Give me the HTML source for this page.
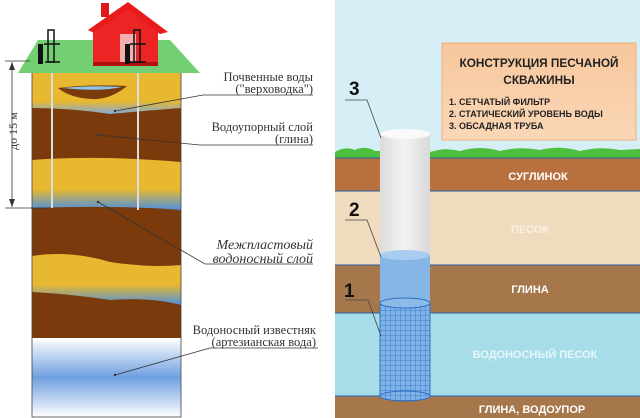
<!DOCTYPE html>
<html><head><meta charset="utf-8"><style>
html,body{margin:0;padding:0;background:#fff;width:640px;height:418px;overflow:hidden}
svg{display:block}
</style></head><body>
<svg width="640" height="418" viewBox="0 0 640 418" xmlns="http://www.w3.org/2000/svg" font-family="Liberation Serif, DejaVu Serif, serif">
<defs>
<linearGradient id="y1" x1="0" y1="0" x2="0" y2="1"><stop offset="0" stop-color="#e8b830"/><stop offset="0.7" stop-color="#e8b830"/><stop offset="1" stop-color="#7fa9d8"/></linearGradient>
<linearGradient id="y2" x1="0" y1="0" x2="0" y2="1"><stop offset="0" stop-color="#e8b830"/><stop offset="0.6" stop-color="#e8b830"/><stop offset="1" stop-color="#4d8fe0"/></linearGradient>
<linearGradient id="art" x1="0" y1="0" x2="0" y2="1"><stop offset="0" stop-color="#ffffff"/><stop offset="0.5" stop-color="#6f9fe0"/><stop offset="1" stop-color="#ffffff"/></linearGradient>
<linearGradient id="pipe" x1="0" y1="0" x2="1" y2="0"><stop offset="0" stop-color="#dcdcdc"/><stop offset="0.5" stop-color="#f3f3f3"/><stop offset="1" stop-color="#d8d8d8"/></linearGradient>
<linearGradient id="box" x1="0" y1="0" x2="0" y2="1"><stop offset="0" stop-color="#f7c79c"/><stop offset="1" stop-color="#fbd7b6"/></linearGradient>
<pattern id="mesh" width="5" height="5" patternUnits="userSpaceOnUse"><rect width="5" height="5" fill="#7fb3e8"/><path d="M0 0H5M0 0V5" stroke="#2f6fc4" stroke-width="0.8"/></pattern>
</defs>
<rect width="640" height="418" fill="#fff"/>
<rect x="32" y="72" width="149" height="345" fill="#7a3a0c"/>
<path d="M32 72H181V108Q130 112 110 114Q70 108 32 108Z" fill="url(#y1)"/>
<path d="M32 160Q100 155 181 162V210Q120 205 32 208Z" fill="url(#y2)"/>
<path d="M32 256Q70 250 110 262Q150 268 181 265V305Q150 297 110 300Q70 294 32 292Z" fill="url(#y2)"/>
<path d="M32 338H181V417H32Z" fill="url(#art)"/>
<rect x="32" y="72" width="149" height="345" fill="none" stroke="#444" stroke-width="0.8"/>
<path d="M58 88Q88 84 127 86Q110 100 92 99Q70 98 58 88Z" fill="#7a3a0c"/>
<path d="M63 88Q90 85 122 87Q100 92 63 88Z" fill="#8cc4ec"/>
<line x1="52" y1="72" x2="52" y2="208" stroke="#ddd" stroke-width="2"/>
<line x1="138" y1="72" x2="138" y2="210" stroke="#ddd" stroke-width="2"/>
<polygon points="38,40 170,40 200,73 18,73" fill="#72cf73"/>
<polygon points="88,30 128,2 168,32 160,34 128,12 96,34" fill="#e81a1a"/>
<rect x="101" y="3" width="8" height="14" fill="#e01818"/>
<polygon points="93,32 128,10 158,32 158,66 93,66" fill="#ec2424"/>
<rect x="120" y="34" width="16" height="28" fill="#f4b0b0"/>
<rect x="93" y="62" width="65" height="4" fill="#b01010"/>
<g stroke="#111" stroke-width="1.5" fill="none">
<rect x="48" y="30" width="6" height="32"/><line x1="45" y1="62" x2="60" y2="62"/><line x1="44" y1="44" x2="60" y2="44"/>
<rect x="134" y="30" width="6" height="32"/><line x1="130" y1="62" x2="146" y2="62"/><line x1="130" y1="44" x2="146" y2="44"/>
</g>
<rect x="38" y="44" width="5" height="20" fill="#111"/><rect x="125" y="44" width="5" height="20" fill="#111"/>
<g stroke="#333" stroke-width="0.8">
<line x1="5" y1="61" x2="30" y2="61"/><line x1="5" y1="208" x2="50" y2="208"/>
<line x1="12" y1="62" x2="12" y2="207"/>
</g>
<polygon points="12,62 9,70 15,70" fill="#333"/><polygon points="12,207 9,199 15,199" fill="#333"/>
<text x="0" y="0" transform="translate(17,150) rotate(-90)" font-size="12" fill="#333">до 15 м</text>
<g stroke="#333" stroke-width="0.8" fill="none">
<polyline points="115,111 203,95 313,95"/>
<polyline points="98,135 200,145 313,145"/>
<polyline points="98,202 205,264 313,264"/>
<polyline points="115,375 210,348 318,348"/>
</g>
<g fill="#333"><circle cx="115" cy="111" r="1.2"/><circle cx="98" cy="135" r="1.2"/><circle cx="98" cy="202" r="1.2"/><circle cx="115" cy="375" r="1.2"/></g>
<g font-size="12.5" fill="#333" text-anchor="end">
<text x="313" y="81">Почвенные воды</text>
<text x="313" y="93">("верховодка")</text>
<text x="313" y="131">Водоупорный слой</text>
<text x="313" y="143">(глина)</text>
<text x="313" y="249" font-style="italic" font-size="14">Межпластовый</text>
<text x="313" y="263" font-style="italic" font-size="14">водоносный слой</text>
<text x="316" y="334">Водоносный известняк</text>
<text x="316" y="346">(артезианская вода)</text>
</g>
<rect x="335" y="0" width="305" height="418" fill="#d6eef5"/>
<rect x="442" y="43" width="194" height="97" fill="url(#box)" stroke="#f0b07c"/>
<g font-family="Liberation Sans, DejaVu Sans, sans-serif" font-weight="bold" fill="#222">
<text x="539" y="67" font-size="11.8" text-anchor="middle">КОНСТРУКЦИЯ ПЕСЧАНОЙ</text>
<text x="539" y="84" font-size="11.8" text-anchor="middle">СКВАЖИНЫ</text>
<text x="449" y="105" font-size="9">1.   СЕТЧАТЫЙ ФИЛЬТР</text>
<text x="449" y="117" font-size="9">2.   СТАТИЧЕСКИЙ УРОВЕНЬ ВОДЫ</text>
<text x="449" y="129" font-size="9">3.   ОБСАДНАЯ ТРУБА</text>
</g>
<path d="M335 158V152Q345 146 355 150Q365 145 375 151L380 151V158ZM430 158V152Q445 147 460 151Q480 145 500 151Q520 146 540 150Q560 145 580 151Q600 146 620 150L640 149V158Z" fill="#4cc03c"/>
<rect x="335" y="158" width="305" height="33" fill="#b9703f"/>
<rect x="335" y="191" width="305" height="74" fill="#efdbbd"/>
<rect x="335" y="265" width="305" height="48" fill="#a7774c"/>
<rect x="335" y="313" width="305" height="83" fill="#a6dde8"/>
<rect x="335" y="396" width="305" height="22" fill="#a7774c"/>
<g stroke="#2a5fa8" stroke-width="1"><line x1="335" y1="158" x2="640" y2="158"/><line x1="335" y1="191" x2="640" y2="191"/><line x1="335" y1="265" x2="640" y2="265"/><line x1="335" y1="313" x2="640" y2="313"/><line x1="335" y1="396" x2="640" y2="396"/></g>
<g font-family="Liberation Sans, DejaVu Sans, sans-serif" font-weight="bold" fill="#fff" font-size="11" text-anchor="middle">
<text x="538" y="180">СУГЛИНОК</text>
<text x="530" y="233" fill="#f7f0e4">ПЕСОК</text>
<text x="530" y="293">ГЛИНА</text>
<text x="535" y="358" fill="#e6f7fa">ВОДОНОСНЫЙ ПЕСОК</text>
<text x="532" y="413">ГЛИНА, ВОДОУПОР</text>
</g>
<rect x="380" y="134" width="50" height="122" fill="url(#pipe)"/>
<ellipse cx="405" cy="134" rx="25" ry="5" fill="#fafafa"/>
<rect x="380" y="255" width="50" height="48" fill="#86b6e6"/>
<ellipse cx="405" cy="255" rx="25" ry="5" fill="#a9cdf0"/>
<rect x="380" y="303" width="50" height="93" fill="url(#mesh)"/>
<ellipse cx="405" cy="396" rx="25" ry="5" fill="url(#mesh)" stroke="#2f6fc4"/>
<ellipse cx="405" cy="303" rx="25" ry="5" fill="#8cbbe8" stroke="#2f6fc4"/>
<line x1="380" y1="303" x2="380" y2="396" stroke="#2f6fc4"/><line x1="430" y1="303" x2="430" y2="396" stroke="#2f6fc4"/>
<g stroke="#444" stroke-width="0.8" fill="none">
<polyline points="345,100 367,100 381,138"/>
<polyline points="345,220 367,220 381,257"/>
<polyline points="345,300 368,300 381,336"/>
</g>
<g font-family="Liberation Sans, DejaVu Sans, sans-serif" font-weight="bold" font-size="19" fill="#111">
<text x="349" y="95">3</text><text x="349" y="216">2</text><text x="344" y="297">1</text>
</g>
</svg>
</body></html>
